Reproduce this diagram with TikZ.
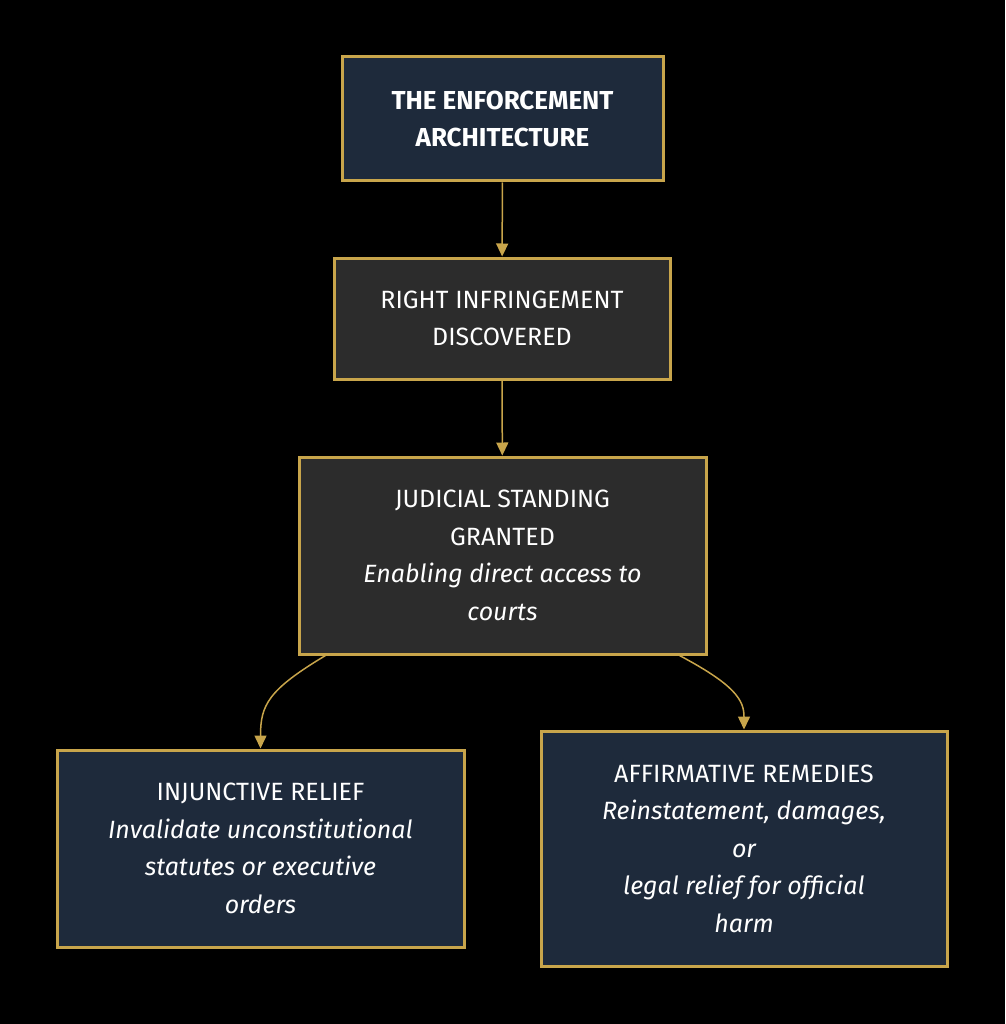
\documentclass[tikz,border=0pt]{standalone}
\usepackage{fontspec}
\setmainfont{Fira Sans}
\usetikzlibrary{arrows.meta}
\definecolor{gold}{HTML}{C8A54B}
\definecolor{navy}{HTML}{1E2A3B}
\definecolor{coal}{HTML}{2C2C2C}
\tikzset{
  box/.style={draw=gold, line width=3pt, align=center, text=white, inner sep=0pt,
    font=\fontsize{25}{37.5}\selectfont},
  arr/.style={draw=gold, line width=1.5pt, -{Triangle[length=13pt,width=12pt]}},
}
\begin{document}
\begin{tikzpicture}[x=1pt,y=-1pt]
  \fill[black] (0,0) rectangle (1005,1024);
  \useasboundingbox (0,0) rectangle (1005,1024);
  % boxes
  \node[box, fill=navy, minimum width=321pt, minimum height=124pt,
    font=\fontsize{26}{37.5}\selectfont\bfseries] (top) at (502.5,119)
    {THE ENFORCEMENT\\ARCHITECTURE};
  \node[box, fill=coal, minimum width=336pt, minimum height=121pt] (found) at (502,318.5)
    {RIGHT INFRINGEMENT\\DISCOVERED};
  \node[box, fill=coal, minimum width=407pt, minimum height=197pt] (standing) at (502.5,555.5)
    {JUDICIAL STANDING\\GRANTED\\\itshape Enabling direct access to\\\itshape courts};
  \node[box, fill=navy, minimum width=407pt, minimum height=197pt] (injunct) at (260.5,848.5)
    {INJUNCTIVE RELIEF\\\itshape Invalidate unconstitutional\\\itshape statutes or executive\\\itshape orders};
  \node[box, fill=navy, minimum width=406pt, minimum height=235pt] (remedy) at (744,848.5)
    {AFFIRMATIVE REMEDIES\\\itshape Reinstatement, damages,\\\itshape or\\\itshape legal relief for official\\\itshape harm};
  % connectors
  \draw[arr] (top) -- (found);
  \draw[arr] (found) -- (standing);
  \draw[arr] ([xshift=28pt]standing.south west) .. controls (268,690) and (260.5,705) .. (injunct.north);
  \draw[arr] ([xshift=-28pt]standing.south east) .. controls (735,685) and (744,700) .. (remedy.north);
\end{tikzpicture}
\end{document}
